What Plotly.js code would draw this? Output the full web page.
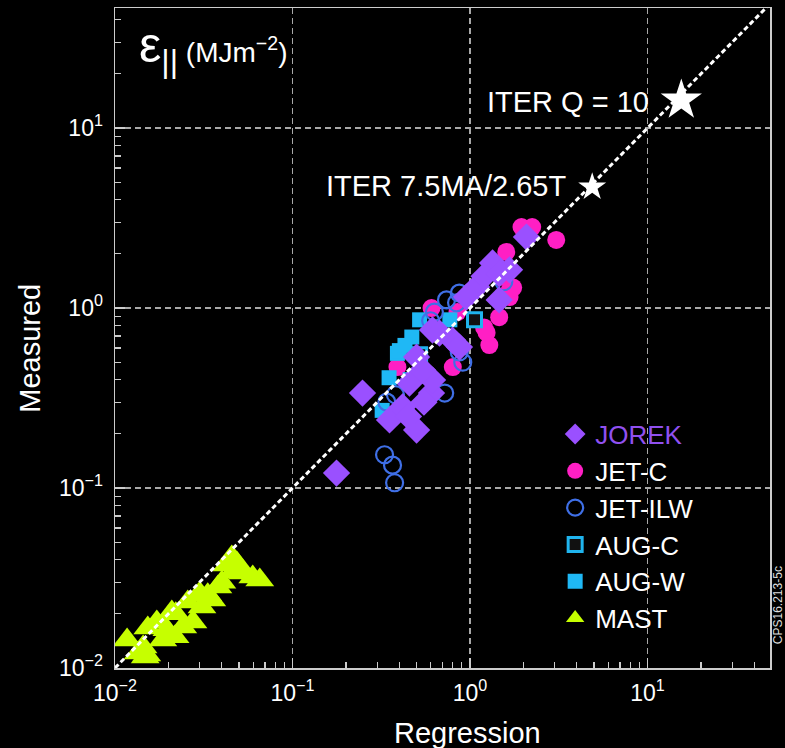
<!DOCTYPE html>
<html>
<head>
<meta charset="utf-8">
<script src="https://cdn.plot.ly/plotly-3.0.1.min.js"></script>
<style>
html,body{margin:0;padding:0;background:#000;}
#chart{width:785px;height:748px;}
</style>
</head>
<body>
<div id="chart"></div>
<script>
// ---- data ----
const jorekX = [0.177,0.248,0.352,0.50,0.417,0.607,0.456,0.615,0.54,0.50,0.615,0.796,0.872,1.09,1.46,1.34,2.08,0.955,0.673,1.67,1.2,1.46,0.55,0.45];
const jorekY = [0.121,0.337,0.239,0.21,0.282,0.337,0.383,0.398,0.452,0.534,0.755,0.664,0.607,1.31,1.11,1.78,2.48,1.15,0.726,1.63,1.5,1.55,0.30,0.25];

const jetcX = [2.24,1.95,3.06,1.60,1.52,1.67,1.46,0.607,1.2,1.285,0.80,0.39,1.24,1.67,0.85,1.75];
const jetcY = [2.82,2.82,2.39,2.05,1.49,1.15,0.89,1.0,0.78,0.623,0.47,0.47,0.73,1.25,0.95,1.3];

const jetilwX = [0.33,0.366,0.376,0.72,0.737,0.84,0.87,1.55,0.91,0.38,0.34,0.87,0.6,0.63];
const jetilwY = [0.153,0.134,0.107,0.337,1.11,1.07,1.21,1.4,0.5,0.33,0.3,0.57,0.85,0.95];

const augcX = [1.06,0.52];
const augcY = [0.86,0.55];

const augwX = [0.52,0.47,0.39,0.35,0.46,0.40,0.77,0.67,0.32,0.43];
const augwY = [0.86,0.69,0.56,0.41,0.40,0.58,0.86,0.76,0.27,0.62];

const mastX = [0.0117,0.0144,0.0151,0.0153,0.0172,0.0186,0.0196,0.0209,0.0218,0.0241,0.0257,0.0275,0.0309,0.0333,0.0351,0.038,0.0427,0.0455,0.0486,0.0525,0.0597,0.0654,0.0135,0.0148,0.040,0.046,0.030,0.022];
const mastY = [0.0143,0.0131,0.0118,0.0167,0.018,0.0143,0.0163,0.0205,0.0149,0.0169,0.0233,0.018,0.0218,0.0255,0.0239,0.0282,0.0374,0.0414,0.0383,0.0337,0.032,0.0308,0.0121,0.0115,0.030,0.034,0.026,0.020];

const iterNames = ["ITER Q = 10","ITER 7.5MA/2.65T"];
const iterX = [15.5,4.88];
const iterY = [14.3,4.70];

const diagX = [0.01,49];
const diagY = [0.01,49];

const majorTicks = [0.01,0.1,1,10];
const majorText = ["10<sup>−2</sup>","10<sup>−1</sup>","10<sup>0</sup>","10<sup>1</sup>"];
const minorTicks = [];
[0.01,0.1,1,10].forEach(d=>{for(let k=2;k<=9;k++) minorTicks.push(d*k);});

// ---- traces ----
const traces = [
  {x:jetcX,y:jetcY,mode:'markers',type:'scatter',name:'JET-C',legendrank:2,
   marker:{symbol:'circle',size:18,color:'#ff1fc4'}},
  {x:augwX,y:augwY,mode:'markers',type:'scatter',name:'AUG-W',legendrank:5,
   marker:{symbol:'square',size:15,color:'#1fb8f5'}},
  {x:jetilwX,y:jetilwY,mode:'markers',type:'scatter',name:'JET-ILW',legendrank:3,
   marker:{symbol:'circle-open',size:17,color:'#3f6fe6',line:{width:2.2}}},
  {x:augcX,y:augcY,mode:'markers',type:'scatter',name:'AUG-C',legendrank:4,
   marker:{symbol:'square',size:14,color:'#111',line:{width:3,color:'#1fb4ee'}}},
  {x:jorekX,y:jorekY,mode:'markers',type:'scatter',name:'<span style="color:#9050f0">JOREK</span>',legendrank:1,
   marker:{symbol:'diamond',size:21,color:'#9a50ff'}},
  {x:mastX,y:mastY,mode:'markers',type:'scatter',name:'MAST',legendrank:6,
   marker:{symbol:'triangle-up',size:25,color:'#c6ff00'}},
  {x:diagX,y:diagY,mode:'lines',type:'scatter',showlegend:false,hoverinfo:'skip',
   line:{color:'#ffffff',width:3,dash:'5px,3px'}},
  {x:iterX,y:iterY,mode:'markers',type:'scatter',showlegend:false,text:iterNames,opacity:1,
   marker:{symbol:'star',size:[31,21],color:'#ffffff',opacity:1,line:{width:0}}}
];

const axisCommon = {
  type:'log',
  tickmode:'array', tickvals:majorTicks, ticktext:majorText,
  ticks:'inside', ticklen:10, tickwidth:1.5, tickcolor:'#cccccc',
  showline:true, linecolor:'#cccccc', linewidth:1.5, mirror:true,
  showgrid:true, gridcolor:'#a8a8a8', gridwidth:1.5, griddash:'6px,4px',
  zeroline:false,
  tickfont:{size:23,color:'#ffffff',family:'Liberation Sans, Arial, sans-serif'},
  minor:{tickmode:'array', tickvals:minorTicks, ticks:'inside', ticklen:6, tickwidth:1.2, tickcolor:'#cccccc', showgrid:false}
};

const layout = {
  width:785, height:748,
  paper_bgcolor:'#000000', plot_bgcolor:'#000000',
  margin:{l:115,r:15,t:8,b:80,pad:0},
  font:{family:'Liberation Sans, Arial, sans-serif',color:'#ffffff',size:22},
  xaxis:Object.assign({},axisCommon,{range:[-2,1.69], ticklabelstandoff:4}),
  yaxis:Object.assign({},axisCommon,{range:[-2,1.667], ticklabelstandoff:6}),
  showlegend:true,
  legend:{x:0.672,y:0.39,xanchor:'left',yanchor:'top',bgcolor:'rgba(0,0,0,0)',
          font:{size:26,color:'#ffffff'},tracegroupgap:0,itemwidth:30},
  annotations:[
    {xref:'paper',yref:'paper',x:0.033,y:0.94,xanchor:'left',yanchor:'middle',showarrow:false,
     text:'<span style="font-size:50px">ε</span><span style="font-size:46px"><sub>||</sub></span> <span style="font-size:28px">(MJm<sup>−2</sup>)</span>',
     font:{size:28,color:'#ffffff'}},
    {xref:'paper',yref:'paper',x:0.818,y:0.857,xanchor:'right',yanchor:'middle',showarrow:false,
     text:iterNames[0],font:{size:29,color:'#ffffff'}},
    {xref:'paper',yref:'paper',x:0.692,y:0.731,xanchor:'right',yanchor:'middle',showarrow:false,
     text:iterNames[1],font:{size:29,color:'#ffffff'}},
    {xref:'paper',yref:'paper',x:0.538,y:-0.098,xanchor:'center',yanchor:'middle',showarrow:false,
     text:'Regression',font:{size:29,color:'#ffffff'}},
    {xref:'paper',yref:'paper',x:-0.13,y:0.485,xanchor:'center',yanchor:'middle',showarrow:false,textangle:-90,
     text:'Measured',font:{size:29,color:'#ffffff'}},
    {xref:'paper',yref:'paper',x:1.012,y:0.095,xanchor:'center',yanchor:'middle',showarrow:false,textangle:-90,
     text:'CPS16.213-5c',font:{size:12,color:'#dddddd'}}
  ]
};

Plotly.newPlot('chart',traces,layout,{displayModeBar:false,staticPlot:true});
</script>
</body>
</html>
